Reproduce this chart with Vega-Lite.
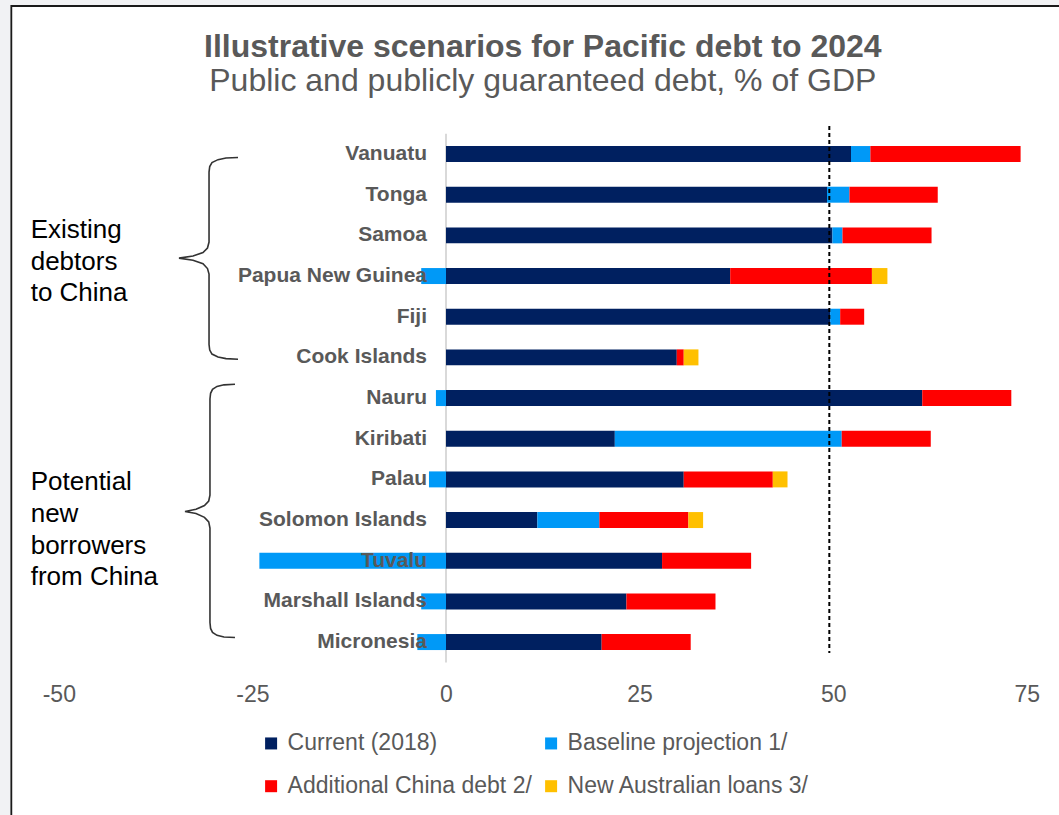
{
  "$schema": "https://vega.github.io/schema/vega-lite/v6.json",
  "width": 968,
  "height": 528.7,
  "autosize": {"type": "none"},
  "padding": {"left": 58.8, "top": 133.7, "right": 32.2, "bottom": 152.6},
  "background": "#f1f2f4",
  "title": {
    "text": "Illustrative scenarios for Pacific debt to 2024",
    "subtitle": "Public and publicly guaranteed debt, % of GDP",
    "font": "Liberation Sans",
    "fontSize": 32,
    "fontWeight": "bold",
    "color": "#595959",
    "subtitleFont": "Liberation Sans",
    "subtitleFontSize": 32,
    "subtitleColor": "#595959",
    "subtitlePadding": 2,
    "offset": -93,
    "anchor": "middle",
    "zindex": 2
  },
  "config": {"view": {"stroke": null}, "font": "Liberation Sans"},
  "datasets": {
    "debt": [
      {"country": "Vanuatu", "series": "Current (2018)", "k": 1, "value": 52.3},
      {"country": "Vanuatu", "series": "Baseline projection 1/", "k": 2, "value": 2.5},
      {"country": "Vanuatu", "series": "Additional China debt 2/", "k": 3, "value": 19.4},
      {"country": "Tonga", "series": "Current (2018)", "k": 1, "value": 49.2},
      {"country": "Tonga", "series": "Baseline projection 1/", "k": 2, "value": 2.9},
      {"country": "Tonga", "series": "Additional China debt 2/", "k": 3, "value": 11.4},
      {"country": "Samoa", "series": "Current (2018)", "k": 1, "value": 49.9},
      {"country": "Samoa", "series": "Baseline projection 1/", "k": 2, "value": 1.3},
      {"country": "Samoa", "series": "Additional China debt 2/", "k": 3, "value": 11.5},
      {"country": "Papua New Guinea", "series": "Current (2018)", "k": 1, "value": 36.7},
      {"country": "Papua New Guinea", "series": "Baseline projection 1/", "k": 2, "value": -3.2},
      {"country": "Papua New Guinea", "series": "Additional China debt 2/", "k": 3, "value": 18.3},
      {"country": "Papua New Guinea", "series": "New Australian loans 3/", "k": 4, "value": 2.0},
      {"country": "Fiji", "series": "Current (2018)", "k": 1, "value": 49.6},
      {"country": "Fiji", "series": "Baseline projection 1/", "k": 2, "value": 1.3},
      {"country": "Fiji", "series": "Additional China debt 2/", "k": 3, "value": 3.1},
      {"country": "Cook Islands", "series": "Current (2018)", "k": 1, "value": 29.8},
      {"country": "Cook Islands", "series": "Additional China debt 2/", "k": 3, "value": 0.9},
      {"country": "Cook Islands", "series": "New Australian loans 3/", "k": 4, "value": 1.9},
      {"country": "Nauru", "series": "Current (2018)", "k": 1, "value": 61.5},
      {"country": "Nauru", "series": "Baseline projection 1/", "k": 2, "value": -1.3},
      {"country": "Nauru", "series": "Additional China debt 2/", "k": 3, "value": 11.5},
      {"country": "Kiribati", "series": "Current (2018)", "k": 1, "value": 21.8},
      {"country": "Kiribati", "series": "Baseline projection 1/", "k": 2, "value": 29.3},
      {"country": "Kiribati", "series": "Additional China debt 2/", "k": 3, "value": 11.5},
      {"country": "Palau", "series": "Current (2018)", "k": 1, "value": 30.7},
      {"country": "Palau", "series": "Baseline projection 1/", "k": 2, "value": -2.2},
      {"country": "Palau", "series": "Additional China debt 2/", "k": 3, "value": 11.5},
      {"country": "Palau", "series": "New Australian loans 3/", "k": 4, "value": 1.9},
      {"country": "Solomon Islands", "series": "Current (2018)", "k": 1, "value": 11.8},
      {"country": "Solomon Islands", "series": "Baseline projection 1/", "k": 2, "value": 8.0},
      {"country": "Solomon Islands", "series": "Additional China debt 2/", "k": 3, "value": 11.5},
      {"country": "Solomon Islands", "series": "New Australian loans 3/", "k": 4, "value": 1.9},
      {"country": "Tuvalu", "series": "Current (2018)", "k": 1, "value": 27.9},
      {"country": "Tuvalu", "series": "Baseline projection 1/", "k": 2, "value": -24.1},
      {"country": "Tuvalu", "series": "Additional China debt 2/", "k": 3, "value": 11.5},
      {"country": "Marshall Islands", "series": "Current (2018)", "k": 1, "value": 23.3},
      {"country": "Marshall Islands", "series": "Baseline projection 1/", "k": 2, "value": -3.2},
      {"country": "Marshall Islands", "series": "Additional China debt 2/", "k": 3, "value": 11.5},
      {"country": "Micronesia", "series": "Current (2018)", "k": 1, "value": 20.1},
      {"country": "Micronesia", "series": "Baseline projection 1/", "k": 2, "value": -3.7},
      {"country": "Micronesia", "series": "Additional China debt 2/", "k": 3, "value": 11.5}
    ],
    "braces": [
      {"brace": "A", "i": 1, "bx": -26.86, "r": 0.084},
      {"brace": "A", "i": 2, "bx": -28.41, "r": 0.098},
      {"brace": "A", "i": 3, "bx": -29.44, "r": 0.138},
      {"brace": "A", "i": 4, "bx": -30.22, "r": 0.209},
      {"brace": "A", "i": 5, "bx": -30.51, "r": 0.307},
      {"brace": "A", "i": 6, "bx": -30.60, "r": 0.443},
      {"brace": "A", "i": 7, "bx": -30.60, "r": 2.164},
      {"brace": "A", "i": 8, "bx": -30.80, "r": 2.311},
      {"brace": "A", "i": 9, "bx": -31.38, "r": 2.422},
      {"brace": "A", "i": 10, "bx": -32.67, "r": 2.508},
      {"brace": "A", "i": 11, "bx": -34.48, "r": 2.560},
      {"brace": "A", "i": 12, "bx": -32.67, "r": 2.611},
      {"brace": "A", "i": 13, "bx": -31.38, "r": 2.697},
      {"brace": "A", "i": 14, "bx": -30.80, "r": 2.816},
      {"brace": "A", "i": 15, "bx": -30.60, "r": 2.951},
      {"brace": "A", "i": 16, "bx": -30.60, "r": 4.684},
      {"brace": "A", "i": 17, "bx": -30.51, "r": 4.819},
      {"brace": "A", "i": 18, "bx": -30.22, "r": 4.918},
      {"brace": "A", "i": 19, "bx": -29.44, "r": 4.991},
      {"brace": "A", "i": 20, "bx": -28.41, "r": 5.031},
      {"brace": "A", "i": 21, "bx": -26.86, "r": 5.045},
      {"brace": "B", "i": 1, "bx": -27.25, "r": 5.660},
      {"brace": "B", "i": 2, "bx": -28.67, "r": 5.675},
      {"brace": "B", "i": 3, "bx": -29.57, "r": 5.714},
      {"brace": "B", "i": 4, "bx": -30.15, "r": 5.786},
      {"brace": "B", "i": 5, "bx": -30.40, "r": 5.884},
      {"brace": "B", "i": 6, "bx": -30.48, "r": 6.024},
      {"brace": "B", "i": 7, "bx": -30.48, "r": 8.385},
      {"brace": "B", "i": 8, "bx": -30.64, "r": 8.532},
      {"brace": "B", "i": 9, "bx": -31.19, "r": 8.643},
      {"brace": "B", "i": 10, "bx": -32.28, "r": 8.736},
      {"brace": "B", "i": 11, "bx": -33.70, "r": 8.788},
      {"brace": "B", "i": 12, "bx": -32.28, "r": 8.840},
      {"brace": "B", "i": 13, "bx": -31.19, "r": 8.933},
      {"brace": "B", "i": 14, "bx": -30.64, "r": 9.044},
      {"brace": "B", "i": 15, "bx": -30.48, "r": 9.196},
      {"brace": "B", "i": 16, "bx": -30.48, "r": 11.520},
      {"brace": "B", "i": 17, "bx": -30.40, "r": 11.665},
      {"brace": "B", "i": 18, "bx": -30.15, "r": 11.763},
      {"brace": "B", "i": 19, "bx": -29.57, "r": 11.835},
      {"brace": "B", "i": 20, "bx": -28.67, "r": 11.875},
      {"brace": "B", "i": 21, "bx": -27.25, "r": 11.889}
    ],
    "notes": [
      {"line": "Existing", "nx": -53.63, "r": 1.859},
      {"line": "debtors", "nx": -53.63, "r": 2.646},
      {"line": "to China", "nx": -53.63, "r": 3.423},
      {"line": "Potential", "nx": -53.63, "r": 8.070},
      {"line": "new", "nx": -53.63, "r": 8.847},
      {"line": "borrowers", "nx": -53.63, "r": 9.634},
      {"line": "from China", "nx": -53.63, "r": 10.411}
    ]
  },
  "layer": [
    {
      "data": {"values": [{"x0": -56.13, "x1": 82, "r0": -3.64, "r1": 17}]},
      "mark": {"type": "rect", "fill": "white", "stroke": "#1a1a1a", "strokeWidth": 1.8, "clip": false},
      "encoding": {
        "x": {"field": "x0", "type": "quantitative", "title": null, "scale": {"domain": [-50, 75], "nice": false, "zero": false},
          "axis": {"values": [-50, -25, 0, 25, 50, 75], "labelExpr": "datum.value < 0 ? '-' + abs(datum.value) : '' + datum.value", "domain": false, "ticks": false, "grid": false, "labelFlush": false, "labelOverlap": false, "labelFont": "Liberation Sans", "labelFontSize": 23, "labelColor": "#595959", "labelPadding": 21, "title": null, "zindex": 2}},
        "x2": {"field": "x1"},
        "y": {"field": "r0", "type": "quantitative", "scale": {"domain": [-0.5, 12.5], "reverse": true, "nice": false, "zero": false}, "axis": null},
        "y2": {"field": "r1"}
      }
    },
    {
      "data": {"values": [{}]},
      "mark": {"type": "rule", "color": "#d9d9d9", "strokeWidth": 2},
      "encoding": {
        "x": {"datum": 0, "type": "quantitative", "title": null, "scale": {"domain": [-50, 75], "nice": false, "zero": false}}
      }
    },
    {
      "data": {"name": "debt"},
      "mark": {"type": "bar"},
      "encoding": {
        "y": {"field": "country", "type": "nominal", "sort": ["Vanuatu", "Tonga", "Samoa", "Papua New Guinea", "Fiji", "Cook Islands", "Nauru", "Kiribati", "Palau", "Solomon Islands", "Tuvalu", "Marshall Islands", "Micronesia"], "scale": {"paddingInner": 0.607, "paddingOuter": 0.3035}, "axis": null},
        "x": {"field": "value", "type": "quantitative", "stack": "zero", "title": null, "scale": {"domain": [-50, 75], "nice": false, "zero": false}},
        "color": {"field": "series", "type": "nominal",
          "scale": {"domain": ["Current (2018)", "Additional China debt 2/", "Baseline projection 1/", "New Australian loans 3/"], "range": ["#002060", "#ff0000", "#0099f7", "#ffc000"]},
          "legend": {"orient": "none", "legendX": 200.8, "legendY": 598, "columns": 2, "title": null, "symbolType": "square", "symbolSize": 144, "symbolStrokeWidth": 0, "labelFont": "Liberation Sans", "labelFontSize": 23, "labelColor": "#595959", "labelOffset": 5, "columnPadding": 7, "rowPadding": 19, "labelLimit": 400, "zindex": 2}},
        "order": {"field": "k", "type": "quantitative"}
      }
    },
    {
      "data": {"name": "debt"},
      "transform": [{"filter": "datum.k == 1"}],
      "mark": {"type": "text", "align": "right", "baseline": "middle", "dx": -19, "font": "Liberation Sans", "fontWeight": "bold", "fontSize": 21, "color": "#595959"},
      "encoding": {
        "y": {"field": "country", "type": "nominal", "sort": ["Vanuatu", "Tonga", "Samoa", "Papua New Guinea", "Fiji", "Cook Islands", "Nauru", "Kiribati", "Palau", "Solomon Islands", "Tuvalu", "Marshall Islands", "Micronesia"], "scale": {"paddingInner": 0.607, "paddingOuter": 0.3035}, "axis": null},
        "x": {"datum": 0, "type": "quantitative", "title": null, "scale": {"domain": [-50, 75], "nice": false, "zero": false}},
        "text": {"field": "country"}
      }
    },
    {
      "data": {"values": [{"x": 49.5, "r0": -0.69, "r1": 12.27}]},
      "mark": {"type": "rule", "color": "#000000", "strokeWidth": 2, "strokeDash": [4, 3]},
      "encoding": {
        "x": {"field": "x", "type": "quantitative", "title": null, "scale": {"domain": [-50, 75], "nice": false, "zero": false}},
        "y": {"field": "r0", "type": "quantitative", "scale": {"domain": [-0.5, 12.5], "reverse": true, "nice": false, "zero": false}, "axis": null},
        "y2": {"field": "r1"}
      }
    },
    {
      "data": {"name": "braces"},
      "mark": {"type": "line", "color": "#333333", "strokeWidth": 1.6, "interpolate": "linear"},
      "encoding": {
        "x": {"field": "bx", "type": "quantitative", "title": null, "scale": {"domain": [-50, 75], "nice": false, "zero": false}},
        "y": {"field": "r", "type": "quantitative", "scale": {"domain": [-0.5, 12.5], "reverse": true, "nice": false, "zero": false}, "axis": null},
        "detail": {"field": "brace"},
        "order": {"field": "i", "type": "quantitative"}
      }
    },
    {
      "data": {"name": "notes"},
      "mark": {"type": "text", "align": "left", "baseline": "middle", "font": "Liberation Sans", "fontSize": 26, "color": "#000000"},
      "encoding": {
        "x": {"field": "nx", "type": "quantitative", "title": null, "scale": {"domain": [-50, 75], "nice": false, "zero": false}},
        "y": {"field": "r", "type": "quantitative", "scale": {"domain": [-0.5, 12.5], "reverse": true, "nice": false, "zero": false}, "axis": null},
        "text": {"field": "line"}
      }
    }
  ],
  "resolve": {"scale": {"y": "independent"}}
}
